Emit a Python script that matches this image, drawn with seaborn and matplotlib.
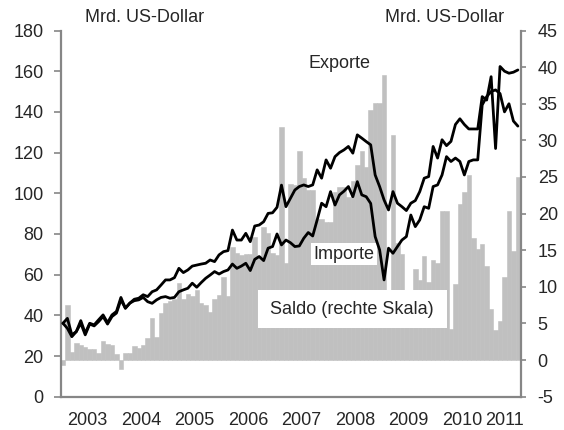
import matplotlib
matplotlib.use("Agg")
import matplotlib.pyplot as plt
import numpy as np
import pandas as pd
import seaborn as sns
from matplotlib.patches import Rectangle

# monthly values Jan 2003 .. Jul 2011, Mrd. US-Dollar
years = ["2003", "2004", "2005", "2006", "2007", "2008", "2009", "2010", "2011"]

exporte = [
    36.1, 38.5, 30.4, 32.0, 37.4, 31.2, 36.1, 35.3, 37.8, 40.2, 36.4, 40.2,
    41.9, 48.8, 43.5, 46.0, 47.9, 48.4, 50.1, 49.2, 51.6, 52.5, 54.9, 57.4,
    57.4, 58.5, 63.1, 61.0, 62.3, 64.2, 64.7, 65.2, 65.6, 67.2, 66.4, 69.7,
    71.3, 71.8, 81.9, 77.0, 77.0, 80.3, 76.2, 83.9, 84.4, 86.0, 90.1, 90.4,
    93.1, 104.0, 93.4, 97.5, 101.6, 103.3, 104.1, 103.3, 104.1, 111.5, 107.4, 116.4,
    112.3, 118.0, 120.0, 121.3, 123.0, 119.7, 128.7, 127.1, 125.4, 123.8, 109.0, 103.3,
    96.7, 91.8, 100.8, 95.1, 93.4, 91.5, 95.1, 96.4, 100.8, 107.4, 108.2, 123.0,
    117.3, 126.3, 123.4, 125.5, 133.8, 136.6, 133.8, 131.6, 131.6, 131.6, 147.5, 145.8,
    157.3, 122.0, 162.3, 160.0, 159.0, 159.5, 160.6,
]
importe = [
    36.1, 33.6, 29.5, 32.0, 36.1, 30.4, 35.7, 34.8, 36.9, 39.4, 35.7, 39.4,
    41.1, 47.6, 43.5, 46.0, 47.2, 47.6, 48.8, 46.7, 45.9, 47.6, 48.8, 49.2,
    48.4, 48.8, 51.6, 52.5, 53.3, 55.8, 53.8, 56.1, 58.2, 59.8, 61.5, 60.3,
    61.5, 62.3, 65.2, 63.1, 64.2, 65.6, 62.0, 67.5, 68.9, 66.9, 73.0, 73.8,
    80.0, 74.6, 77.0, 75.7, 73.8, 74.1, 77.9, 80.7, 79.0, 86.9, 95.1, 93.4,
    100.8, 94.2, 99.2, 101.0, 103.3, 98.3, 105.7, 99.2, 98.3, 95.0, 78.7, 72.2,
    57.4, 73.0, 70.5, 73.8, 77.0, 78.7, 89.3, 83.6, 86.9, 93.4, 92.6, 103.3,
    104.1, 109.0, 118.0, 115.6, 117.3, 115.6, 109.0, 115.6, 116.4, 116.4, 143.4, 147.5,
    150.0, 150.8, 149.0, 140.0, 144.0, 135.5, 133.0,
]
saldo = [
    -0.7, 7.5, 1.1, 2.3, 2.0, 1.8, 1.5, 1.5, 0.9, 2.6, 2.2, 2.1,
    0.8, -1.2, 0.9, 1.0, 1.9, 1.7, 2.1, 3.0, 5.8, 3.2, 6.4, 7.8,
    8.1, 8.3, 10.5, 8.3, 9.0, 8.7, 9.6, 7.8, 7.5, 6.5, 8.3, 8.9,
    11.4, 8.8, 15.5, 14.6, 14.3, 14.5, 14.5, 16.8, 14.2, 18.2, 17.3, 14.6,
    14.3, 31.8, 13.2, 24.1, 23.9, 28.5, 24.9, 23.2, 23.2, 19.3, 19.3, 18.9,
    18.9, 23.0, 23.7, 23.7, 22.3, 24.4, 26.6, 28.5, 26.4, 34.2, 35.1, 35.1,
    38.9, 5.0, 30.7, 16.0, 14.5, 6.0, 5.0, 12.4, 11.0, 14.2, 10.6, 13.7,
    13.3, 20.3, 20.3, 4.2, 10.4, 21.3, 23.0, 25.3, 16.7, 15.1, 15.9, 12.9,
    7.0, 4.1, 5.4, 11.4, 20.3, 14.9, 25.0,
]

GREY_BAR = "#C0C0C0"
GREY_AX = "#868686"
FS = 13

sns.set_style("white")
plt.rcParams["font.family"] = ["Liberation Sans", "DejaVu Sans"]
plt.rcParams["axes.unicode_minus"] = False

df = pd.DataFrame({"monat": np.arange(len(saldo)) + 0.5,
                   "exporte": exporte, "importe": importe, "saldo": saldo})

W, H = 564, 430
fig = plt.figure(figsize=(W / 100, H / 100), dpi=100)
x0, x1, y0, y1 = 60.7, 521, 396.7, 30.5
ax = fig.add_axes([x0 / W, 1 - y0 / H, (x1 - x0) / W, (y0 - y1) / H])
ax2 = ax.twinx()

# Saldo bars on the right scale
sns.barplot(data=df, x="monat", y="saldo", native_scale=True, width=1,
            color=GREY_BAR, saturation=1, errorbar=None, ax=ax2,
            linewidth=0.4, edgecolor=GREY_BAR)

# lines on the left scale, drawn above the bars
ax.set_zorder(ax2.get_zorder() + 1); ax.patch.set_visible(False)
for col in ["exporte", "importe"]:
    sns.lineplot(data=df, x="monat", y=col, ax=ax, color="black", lw=2.0, zorder=5)

xmax = 103.2
ax.set_xlim(0, xmax); ax2.set_xlim(0, xmax)
ax.set_ylim(0, 180); ax2.set_ylim(-5, 45)
ax.set_yticks(range(0, 181, 20)); ax2.set_yticks(range(-5, 46, 5))
ax.set_xticks(np.arange(0, 97, 12)); ax.set_xticklabels([])
centres = [12 * k + 6 for k in range(8)] + [(96 + xmax) / 2]
ax.set_xticks(centres, minor=True); ax.set_xticklabels(years, minor=True)
ax.set_xlabel(""); ax.set_ylabel(""); ax2.set_xlabel(""); ax2.set_ylabel("")
ax2.set_xticks([])

ax.tick_params(axis="y", direction="out", length=4.8, width=1.2, color=GREY_AX,
               pad=7.5, labelsize=FS, left=True)
ax.tick_params(axis="x", which="major", direction="out", length=4.5, width=1.2,
               color=GREY_AX, bottom=True)
ax.tick_params(axis="x", which="minor", length=0, pad=11, labelsize=FS)
ax2.tick_params(axis="y", direction="out", length=3.5, width=1.2, color=GREY_AX,
                pad=8.5, labelsize=FS, right=True)

for s in ["top", "right"]:
    ax.spines[s].set_visible(False)
for s in ["top", "left", "bottom"]:
    ax2.spines[s].set_visible(False)
for sp in [ax.spines["left"], ax.spines["bottom"], ax2.spines["right"]]:
    sp.set_color(GREY_AX); sp.set_linewidth(1.6)

# labels
ax.add_patch(Rectangle((44.2, 33.8), 42.4, 18.7, facecolor="white",
                       edgecolor="none", zorder=3))
ax.text(65.3, 43.1, "Saldo (rechte Skala)", ha="center", va="center",
        fontsize=FS, zorder=4)
ax.text(62.6, 164, "Exporte", ha="center", va="center", fontsize=FS, zorder=4)
ax.text(63.5, 70.1, "Importe", ha="center", va="center", fontsize=FS, zorder=4,
        bbox=dict(facecolor="white", edgecolor="none", pad=1.5))
fig.text(85 / W, 1 - 18 / H, "Mrd. US-Dollar", ha="left", va="center", fontsize=FS)
fig.text(385 / W, 1 - 18 / H, "Mrd. US-Dollar", ha="left", va="center", fontsize=FS)

fig.savefig("out.png", dpi=100)
